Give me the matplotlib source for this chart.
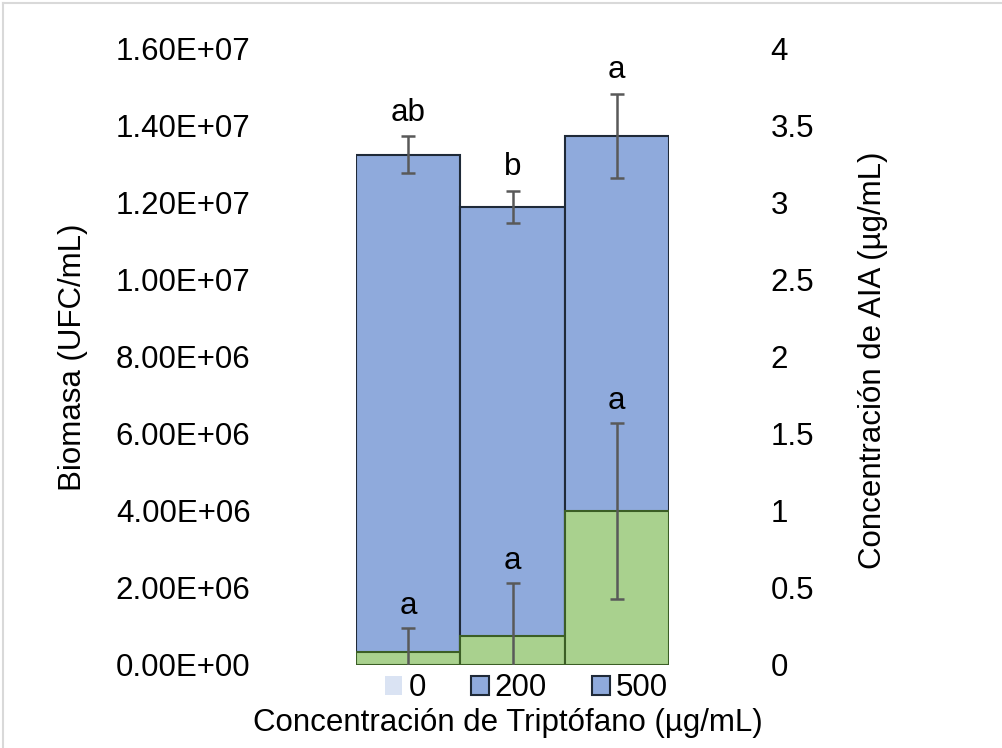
import numpy as np
import matplotlib
matplotlib.use('Agg')
from matplotlib import pyplot as plt
from matplotlib.patches import Patch
from matplotlib.lines import Line2D
from matplotlib.ticker import FuncFormatter

# data
categories = ['0', '200', '500']
biomasa = [1.325e7, 1.19e7, 1.374e7]
biomasa_err = [4.8e5, 4.2e5, 1.1e6]
biomasa_letters = ['ab', 'b', 'a']
aia = [0.084, 0.19, 1.0]
aia_err = [0.156, 0.34, 0.57]
aia_letters = ['a', 'a', 'a']
left_ticks = [0, 2e6, 4e6, 6e6, 8e6, 1e7, 1.2e7, 1.4e7, 1.6e7]
right_ticks = [0, 0.5, 1, 1.5, 2, 2.5, 3, 3.5, 4]

BLUE = '#8FAADC'
BLUE_EDGE = '#1F2A38'
LIGHT = '#DAE3F3'
GREEN = '#A9D18E'
GREEN_EDGE = '#3B5E25'
ERR = '#595959'

plt.rcParams['font.family'] = ['Liberation Sans', 'DejaVu Sans']
FS = 22.5

def main():
    fig = plt.figure(figsize=(10.02, 7.48), dpi=100)
    ax = fig.add_axes([0.3553, 0.1110, 0.3124, 0.8235])
    ax2 = ax.twinx()

    x = np.arange(len(categories))
    ax.bar(x, biomasa, width=1.0, color=BLUE, edgecolor=BLUE_EDGE, linewidth=1.5)
    ax.errorbar(x, biomasa, yerr=biomasa_err, fmt='none', ecolor=ERR,
                elinewidth=1.8, capsize=5, capthick=1.8)
    for xi, v, e, t in zip(x, biomasa, biomasa_err, biomasa_letters):
        ax.annotate(t, (xi, v + e), xytext=(0, 6), textcoords='offset points',
                    ha='center', va='bottom', fontsize=FS)

    ax2.bar(x, aia, width=1.0, color=GREEN, edgecolor=GREEN_EDGE, linewidth=1.5)
    ax2.errorbar(x, aia, yerr=aia_err, fmt='none', ecolor=ERR,
                 elinewidth=1.8, capsize=5, capthick=1.8)
    for xi, v, e, t in zip(x, aia, aia_err, aia_letters):
        ax2.annotate(t, (xi, v + e), xytext=(0, 5), textcoords='offset points',
                     ha='center', va='bottom', fontsize=FS)

    ax.set_xlim(-0.5, 2.5)
    ax.set_ylim(0, 1.6e7)
    ax2.set_ylim(0, 4)
    ax.set_yticks(left_ticks)
    ax2.set_yticks(right_ticks)
    ax.yaxis.set_major_formatter(FuncFormatter(lambda v, p: '%.2E' % v))
    ax2.yaxis.set_major_formatter(FuncFormatter(lambda v, p: '%g' % v))
    ax.set_xticks([])
    ax.tick_params(axis='y', length=0, pad=76, labelsize=FS)
    ax2.tick_params(axis='y', length=0, pad=73, labelsize=FS)
    for a in (ax, ax2):
        for s in a.spines.values():
            s.set_visible(False)

    ax.set_ylabel('Biomasa (UFC/mL)', fontsize=FS)
    ax.yaxis.set_label_coords(-0.856, 0.50)
    ax2.set_ylabel('Concentración de AIA (µg/mL)', fontsize=FS)
    ax2.yaxis.set_label_coords(1.604, 0.494)

    handles = [Patch(facecolor=LIGHT, edgecolor='none'),
               Patch(facecolor=BLUE, edgecolor=BLUE_EDGE, linewidth=1.5),
               Patch(facecolor=BLUE, edgecolor=BLUE_EDGE, linewidth=1.5)]
    ax.legend(handles, categories, loc='center', bbox_to_anchor=(0.545, -0.038),
              ncol=3, frameon=False, fontsize=FS, handlelength=0.55,
              handleheight=0.55, handletextpad=0.2, columnspacing=1.45,
              borderaxespad=0, borderpad=0)
    fig.text(0.507, 0.034, 'Concentración de Triptófano (µg/mL)', ha='center',
             va='center', fontsize=FS)

    # light chart border (top and left edges)
    fig.add_artist(Line2D([3 / 1002, 1], [1 - 3 / 748, 1 - 3 / 748],
                          color='#D9D9D9', lw=1.5, transform=fig.transFigure))
    fig.add_artist(Line2D([3 / 1002, 3 / 1002], [0, 1 - 3 / 748],
                          color='#D9D9D9', lw=1.5, transform=fig.transFigure))

    fig.savefig('out.png', dpi=100)

if __name__ == '__main__':
    main()
